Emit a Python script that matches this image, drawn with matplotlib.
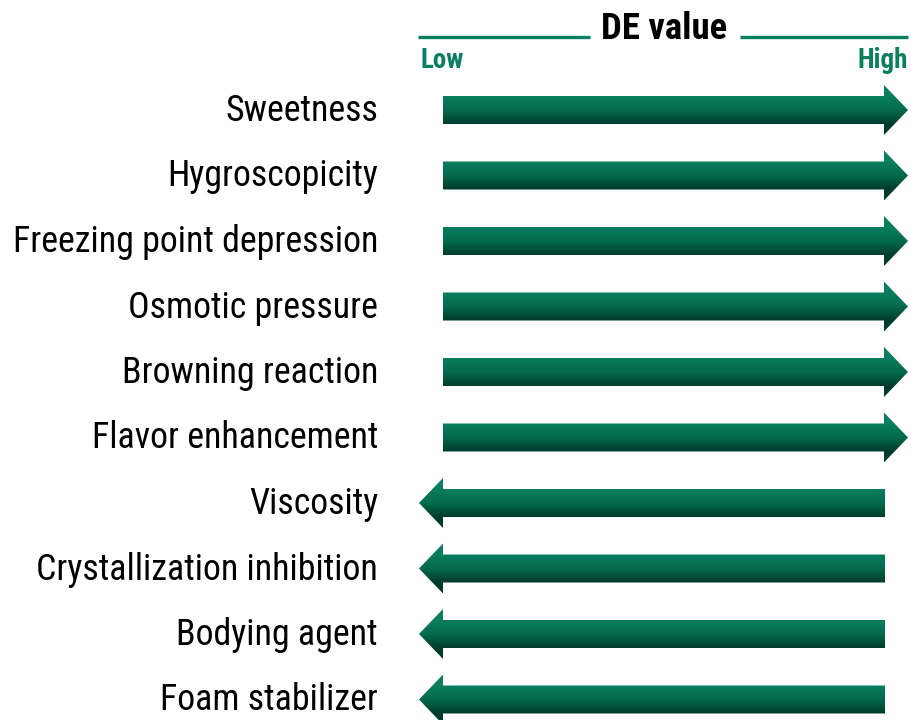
import numpy as np
import matplotlib
matplotlib.use("Agg")
import matplotlib.pyplot as plt
from matplotlib import font_manager
from matplotlib.patches import Polygon
from matplotlib.colors import LinearSegmentedColormap

properties = ["Sweetness", "Hygroscopicity", "Freezing point depression",
              "Osmotic pressure", "Browning reaction", "Flavor enhancement",
              "Viscosity", "Crystallization inhibition", "Bodying agent",
              "Foam stabilizer"]
# +1: increases with DE value, -1: decreases with DE value
direction = [1, 1, 1, 1, 1, 1, -1, -1, -1, -1]
axis_title = "DE value"
low_label, high_label = "Low", "High"

names = {f.name for f in font_manager.fontManager.ttflist}
fam = None
for cand in ["Liberation Sans Narrow", "Roboto Condensed", "Open Sans Condensed", "DejaVu Sans"]:
    if cand in names:
        fam = cand
        break
plt.rcParams['font.family'] = [fam, 'DejaVu Sans']
stretch = 'condensed' if fam == "DejaVu Sans" else 'normal'

W, H = 911, 720
fig = plt.figure(figsize=(W/100, H/100), dpi=100)
ax = fig.add_axes([0, 0, 1, 1])
ax.set_xlim(0, W)
ax.set_ylim(H, 0)
ax.axis('off')
renderer = fig.canvas.get_renderer()

def fit(txt, target_w, **kw):
    fs = 20
    t = ax.text(0, 0, txt, fontsize=fs, fontstretch=stretch, **kw)
    w = t.get_window_extent(renderer).width
    t.remove()
    return fs * target_w / w

green = "#0a8060"
cmap = LinearSegmentedColormap.from_list("g", ["#0a7e5f", "#046a4e", "#003c2b"])

y0, dy = 110, 65.5
x_low_tip, x_tail_l, x_tail_r, x_high_tip = 419, 443, 885, 908
shaft_h, head_h = 14, 25

label_fs = fit("Freezing point depression", 365)

for i, (name, d) in enumerate(zip(properties, direction)):
    yc = y0 + dy * i
    if d > 0:
        pts = [(x_tail_l, yc - shaft_h), (x_high_tip - 24, yc - shaft_h), (x_high_tip - 24, yc - head_h),
               (x_high_tip, yc), (x_high_tip - 24, yc + head_h), (x_high_tip - 24, yc + shaft_h),
               (x_tail_l, yc + shaft_h)]
    else:
        pts = [(x_tail_r, yc - shaft_h), (x_low_tip + 24, yc - shaft_h), (x_low_tip + 24, yc - head_h),
               (x_low_tip, yc), (x_low_tip + 24, yc + head_h), (x_low_tip + 24, yc + shaft_h),
               (x_tail_r, yc + shaft_h)]
    poly = Polygon(pts, closed=True, facecolor='none', edgecolor='none')
    ax.add_patch(poly)
    ys = np.linspace(yc - head_h, yc + head_h, 200)
    t = np.clip((ys - (yc - shaft_h)) / (2 * shaft_h), 0, 1)
    grad = t[:, None] * np.ones((1, 2))
    im = ax.imshow(grad, cmap=cmap, vmin=0, vmax=1, aspect='auto',
                   extent=(x_low_tip, x_high_tip, yc + head_h, yc - head_h),
                   interpolation='bilinear')
    im.set_clip_path(poly)
    ax.text(378, yc + 1, name, ha='right', va='center', fontsize=label_fs,
            fontstretch=stretch, color='black')

# header
title_fs = fit(axis_title, 126, fontweight='bold')
lh_fs = fit(high_label, 50, fontweight='bold')
ax.plot([418, 590], [37, 37], color=green, lw=2.4, solid_capstyle='butt')
ax.plot([740, 908], [37, 37], color=green, lw=2.4, solid_capstyle='butt')
ax.text(664, 29, axis_title, ha='center', va='center', fontsize=title_fs,
        fontweight='bold', fontstretch=stretch, color='black')
ax.text(420, 60, low_label, ha='left', va='center', fontsize=lh_fs,
        fontweight='bold', fontstretch=stretch, color=green)
ax.text(908, 60, high_label, ha='right', va='center', fontsize=lh_fs,
        fontweight='bold', fontstretch=stretch, color=green)

ax.set_xlim(0, W)
ax.set_ylim(H, 0)
fig.savefig("out.png", dpi=100)
